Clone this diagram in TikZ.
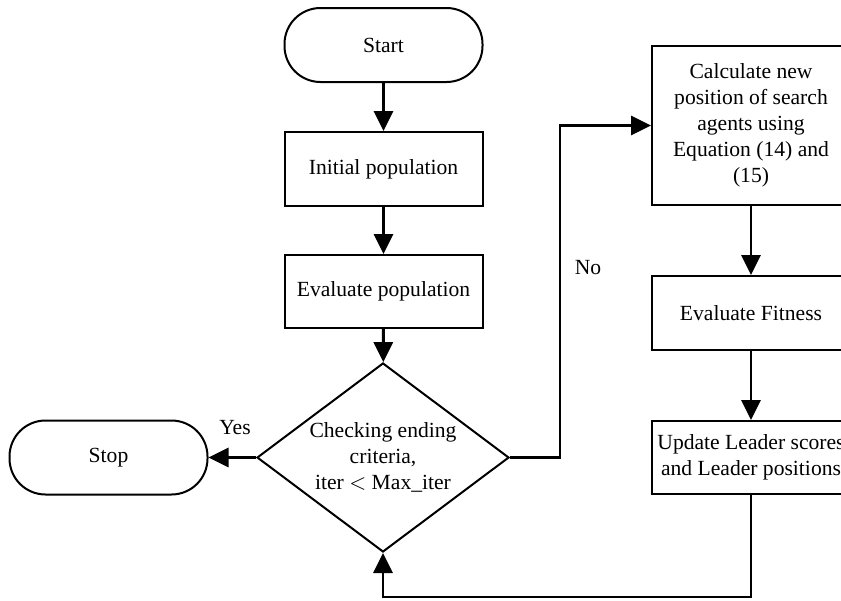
\documentclass[tikz,border=0pt]{standalone}
\usepackage{fontspec}
\setmainfont{Liberation Serif}
\usetikzlibrary{shapes.geometric,arrows.meta}

\begin{document}
\begin{tikzpicture}[x=0.5pt, y=-0.5pt,
    every node/.style={font=\fontsize{10.8}{13}\selectfont},
    term/.style={draw, line width=1pt, rounded corners=18pt, minimum width=99pt, minimum height=37pt},
    proc/.style={draw, line width=1pt, minimum width=99pt, align=center, inner sep=2pt},
    decide/.style={draw, line width=1pt, diamond, aspect=1.333, minimum width=126pt, minimum height=94.5pt, inner sep=0pt, align=center},
    flow/.style={line width=1.4pt, -{Triangle[width=9.5pt,length=10pt]}}]
    \useasboundingbox (0,0) rectangle (841,600);
    \clip (0,0) rectangle (841,600);
    % main column
    \node[term] (start) at (383.5,45) {Start};
    \node[proc, minimum height=37pt] (init) at (383.5,169) {Initial population};
    \node[proc, minimum height=36.5pt] (evalpop) at (383.5,291.5) {Evaluate population};
    \node[decide] (check) at (383,457.5) {Checking ending\\criteria,\\iter $<$ Max\_iter};
    \node[term] (stop) at (108.5,457.5) {Stop};
    % loop column (cut at the right edge)
    \node[proc, minimum height=79.5pt] (calc) at (751,125.5) {Calculate new\\position of search\\agents using\\Equation (14) and\\(15)};
    \node[proc, minimum height=37pt] (fit) at (751,313) {Evaluate Fitness};
    \node[proc, minimum height=36.5pt] (update) at (751,457.5) {Update Leader scores\\and Leader positions};
    % labels
    \node (yes) at (235,428) {Yes};
    \node (no) at (588,268) {No};
    % connectors
    \coordinate (nobend) at (560,125.5);
    \coordinate (loopend) at (751,597);
    \draw[flow] (start) -- (init);
    \draw[flow] (init) -- (evalpop);
    \draw[flow] (evalpop) -- (check);
    \draw[flow] (check) -- (stop);
    \draw[flow] (check.east) -| (nobend) -- (calc.west);
    \draw[flow] (calc) -- (fit);
    \draw[flow] (fit) -- (update);
    \draw[flow] (update.south) -- (loopend) -| (check.south);
\end{tikzpicture}
\end{document}
